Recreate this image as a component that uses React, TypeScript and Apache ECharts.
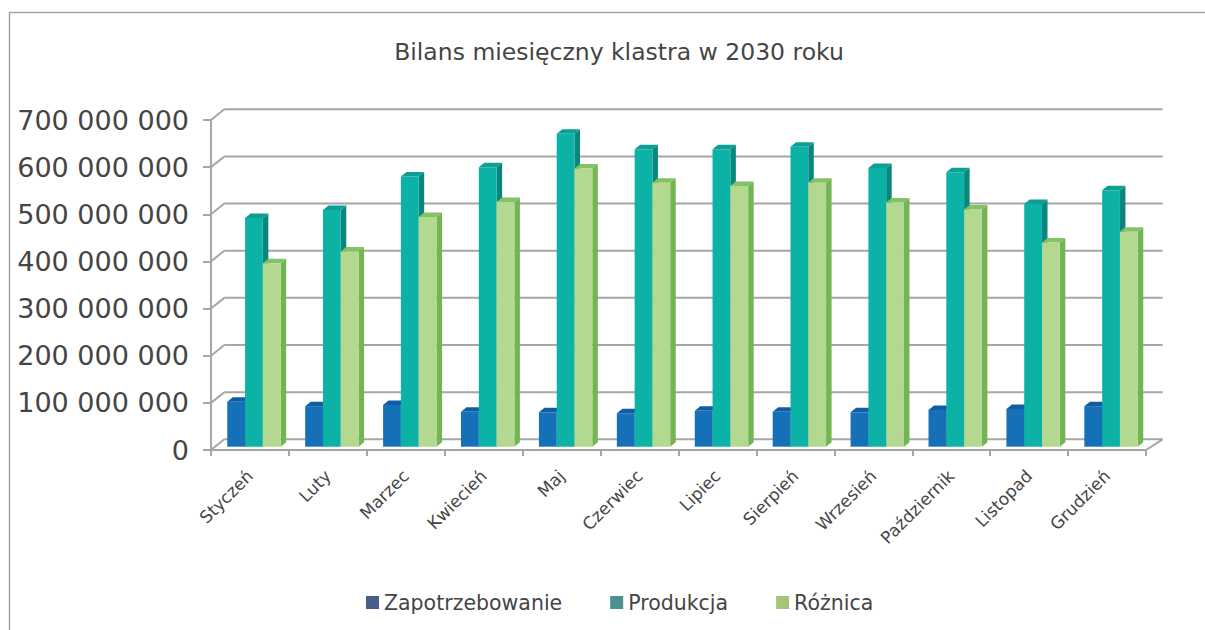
import React, { useEffect, useRef } from "react";
import * as echarts from "echarts";

const categories = ["Styczeń", "Luty", "Marzec", "Kwiecień", "Maj", "Czerwiec", "Lipiec", "Sierpień", "Wrzesień", "Październik", "Listopad", "Grudzień"];
const zapotrzebowanie = [95500000, 86000000, 88500000, 74000000, 73000000, 71000000, 76000000, 74000000, 73000000, 78000000, 80000000, 86000000];
const produkcja = [485000000, 502000000, 573000000, 593000000, 664000000, 631000000, 631000000, 636000000, 591000000, 582000000, 515000000, 544000000];
const roznica = [389000000, 414000000, 487000000, 519000000, 590000000, 560000000, 553000000, 560000000, 518000000, 503000000, 433000000, 456000000];
const yTicks = [0, 100000000, 200000000, 300000000, 400000000, 500000000, 600000000, 700000000];
const seriesNames = ["Zapotrzebowanie", "Produkcja", "Różnica"];

const FONT = "DejaVu Sans";
const TEXT = "#454545";
const GRIDC = "#a6a6a6";

// depth geometry (pixels)
const DX = 4, DY = 3.3; // bar front plane shift
const BW = 17.8; // bar width
const SX = 5.5, SY = 4.5; // bar depth
const WLX = 13.3, WRX = 16.7, WY = 10.7; // back wall shift

const palettes = [
  { front: "#1570b8", top: "#0f5ea3", side: "#0d5592", legend: "#4a5e8c" },
  { front: "#0db2a6", top: "#0c9f94", side: "#0a877d", legend: "#4b918d" },
  { front: "#b3d890", top: "#84c266", side: "#72b552", legend: "#a6c478" },
];

function fmt(v: number) {
  return String(v).replace(/\B(?=(\d{3})+(?!\d))/g, " ");
}

function barRender(idx: number) {
  const c = palettes[idx];
  return (params: any, api: any) => {
    const cat = api.value(0);
    const v = api.value(1);
    const base = api.coord([cat, 0]);
    const top = api.coord([cat, v]);
    const cx = base[0] + DX;
    const xL = cx + (idx - 1.5) * BW;
    const xR = xL + BW;
    const yB = base[1] - DY;
    const yT = top[1] - DY;
    return {
      type: "group",
      children: [
        { type: "polygon", shape: { points: [[xR, yT], [xR + SX, yT - SY], [xR + SX, yB - SY], [xR, yB]] }, style: { fill: c.side } },
        { type: "polygon", shape: { points: [[xL, yT], [xR, yT], [xR + SX, yT - SY], [xL + SX, yT - SY]] }, style: { fill: c.top } },
        { type: "rect", shape: { x: xL, y: yT, width: BW, height: yB - yT }, style: { fill: c.front } },
      ],
    };
  };
}

function wallRender(params: any, api: any) {
  const v = api.value(1);
  const cs = params.coordSys;
  const y = api.coord([0, v])[1];
  const gx = cs.x, gw = cs.width;
  const children: any[] = [
    { type: "line", shape: { x1: gx + WLX, y1: y - WY, x2: gx + gw + WRX, y2: y - WY }, style: { stroke: GRIDC, lineWidth: 2 } },
    { type: "line", shape: { x1: gx, y1: y, x2: gx + WLX, y2: y - WY }, style: { stroke: GRIDC, lineWidth: 2 } },
  ];
  if (v === 0) {
    children.push({ type: "line", shape: { x1: gx + gw, y1: y, x2: gx + gw + WRX, y2: y - WY }, style: { stroke: GRIDC, lineWidth: 2 } });
  }
  return { type: "group", children };
}

export default function App() {
  const ref = useRef<HTMLDivElement>(null);
  useEffect(() => {
    if (!ref.current) return;
    const chart = echarts.init(ref.current, undefined, { renderer: "svg" });
    const values = [zapotrzebowanie, produkcja, roznica];
    chart.setOption({
      animation: false,
      backgroundColor: "#ffffff",
      title: {
        text: "Bilans miesięczny klastra w 2030 roku",
        left: 614,
        textAlign: "center",
        top: 35,
        textStyle: { fontFamily: FONT, fontSize: 23.5, fontWeight: "normal", color: TEXT },
      },
      legend: {
        data: seriesNames.map((n, i) => ({ name: n, itemStyle: { color: palettes[i].legend } })),
        left: 361,
        top: 587,
        icon: "rect",
        itemWidth: 13,
        itemHeight: 13,
        itemGap: 48,
        textStyle: { fontFamily: FONT, fontSize: 20.5, color: TEXT },
      },
      graphic: [
        { type: "polyline", shape: { points: [[9.5, 640], [9.5, 12.5], [1215, 12.5]] }, style: { stroke: GRIDC, lineWidth: 1.5, fill: "none" }, silent: true },
      ],
      grid: { left: 211, right: 59, top: 120, bottom: 180 },
      xAxis: {
        type: "category",
        data: categories,
        axisLine: { show: true, lineStyle: { color: GRIDC, width: 2 } },
        axisTick: { show: true, length: 6, interval: 0, lineStyle: { color: GRIDC, width: 2 } },
        axisLabel: { rotate: 45, interval: 0, margin: 23, fontFamily: FONT, fontSize: 17, color: TEXT },
        splitLine: { show: false },
      },
      yAxis: {
        type: "value",
        min: 0,
        max: 700000000,
        interval: 100000000,
        axisLine: { show: true, lineStyle: { color: GRIDC, width: 2 } },
        axisTick: { show: true, length: 8, lineStyle: { color: GRIDC, width: 2 } },
        axisLabel: { margin: 22, fontFamily: FONT, fontSize: 27, color: TEXT, formatter: (v: number) => fmt(v) },
        splitLine: { show: false },
      },
      series: [
        {
          type: "custom",
          name: "wall",
          silent: true,
          z: 1,
          renderItem: wallRender,
          data: yTicks.map((t) => [0, t]),
        },
        ...seriesNames.map((n, i) => ({
          type: "custom",
          name: n,
          z: 2 + i,
          itemStyle: { color: palettes[i].legend },
          renderItem: barRender(i),
          encode: { x: 0, y: 1 },
          data: values[i].map((v, k) => [k, v]),
        })),
      ],
    });
    return () => chart.dispose();
  }, []);
  return <div ref={ref} style={{ position: "fixed", left: 0, top: 0, width: 1205, height: 630 }} />;
}
